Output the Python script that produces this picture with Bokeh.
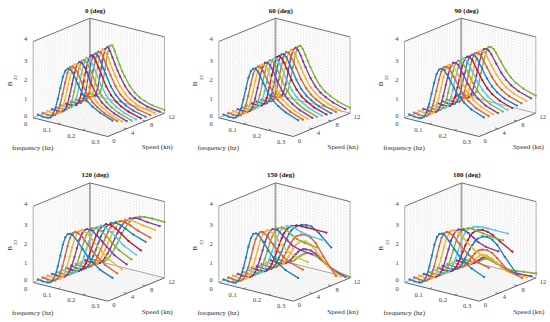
import numpy as np
from bokeh.embed import file_html
from bokeh.resources import INLINE
from bokeh.core.properties import value
from bokeh.layouts import column, row
from bokeh.models import ColumnDataSource, Range1d
from bokeh.plotting import figure

FREQ = [0.00, 0.02, 0.04, 0.05, 0.06, 0.07, 0.08, 0.09, 0.10, 0.11, 0.12, 0.13, 0.14, 0.16, 0.18, 0.20, 0.22, 0.25, 0.30]
SPEEDS = [1, 2, 3, 4, 5, 6, 7, 8, 9, 10, 11, 12]
TITLES = ["0 (deg)", "60 (deg)", "90 (deg)", "120 (deg)", "150 (deg)", "180 (deg)"]
COLORS = ["#1B7FC4", "#E2602A", "#F0B52E", "#8A3A9A", "#7DB23A", "#56C3F0", "#AE2038"]
B_TICKS = [0, 1, 2, 3, 4]
F_TICKS = [0, 0.1, 0.2, 0.3]
S_TICKS = [0, 4, 8, 12]

B22_000 = [
    [.06,.02,.03,.08,.25,.62,1.15,1.75,2.35,2.72,2.87,2.86,2.72,2.2,1.72,1.4,1.2,.98,.73],
    [.05,.02,.04,.10,.3,.72,1.3,1.92,2.48,2.8,2.88,2.82,2.65,2.08,1.6,1.28,1.07,.84,.6],
    [.05,.02,.04,.12,.36,.84,1.45,2.08,2.6,2.85,2.88,2.76,2.55,1.95,1.48,1.16,.95,.72,.48],
    [.04,.02,.05,.15,.43,.96,1.6,2.24,2.7,2.88,2.85,2.68,2.44,1.82,1.36,1.05,.85,.63,.4],
    [.04,.02,.06,.18,.52,1.1,1.78,2.4,2.8,2.89,2.8,2.58,2.32,1.7,1.25,.96,.76,.55,.33],
    [.04,.02,.07,.22,.62,1.25,1.95,2.55,2.86,2.88,2.72,2.47,2.18,1.58,1.15,.87,.68,.48,.28],
    [.03,.02,.08,.26,.72,1.42,2.13,2.68,2.89,2.84,2.62,2.34,2.05,1.47,1.06,.79,.61,.43,.24],
    [.03,.02,.1,.32,.85,1.6,2.3,2.78,2.89,2.76,2.5,2.2,1.92,1.36,.97,.72,.55,.38,.22],
    [.03,.03,.12,.38,.98,1.78,2.47,2.84,2.86,2.66,2.36,2.06,1.78,1.26,.89,.66,.5,.34,.2],
    [.03,.03,.14,.46,1.13,1.97,2.62,2.88,2.8,2.54,2.22,1.92,1.65,1.16,.82,.6,.46,.31,.19],
    [.03,.03,.17,.55,1.3,2.15,2.74,2.89,2.71,2.4,2.08,1.78,1.52,1.07,.75,.55,.42,.28,.18],
    [.03,.04,.2,.65,1.48,2.32,2.82,2.87,2.6,2.26,1.93,1.64,1.4,.98,.69,.5,.38,.25,.17],
]
B22_060 = [
    [.06,.02,.03,.08,.24,.6,1.12,1.72,2.32,2.7,2.87,2.87,2.75,2.25,1.77,1.44,1.23,1.0,.75],
    [.05,.02,.03,.09,.27,.66,1.2,1.82,2.4,2.76,2.88,2.85,2.7,2.18,1.7,1.37,1.17,.93,.68],
    [.05,.02,.04,.1,.31,.73,1.3,1.93,2.48,2.8,2.88,2.82,2.65,2.1,1.63,1.3,1.1,.87,.62],
    [.05,.02,.04,.12,.35,.82,1.42,2.05,2.58,2.84,2.88,2.78,2.58,2.02,1.56,1.24,1.04,.81,.57],
    [.04,.02,.05,.14,.4,.91,1.53,2.16,2.66,2.87,2.87,2.73,2.5,1.94,1.49,1.18,.98,.75,.52],
    [.04,.02,.05,.16,.46,1.0,1.65,2.28,2.73,2.88,2.84,2.66,2.42,1.86,1.42,1.12,.93,.7,.48],
    [.04,.02,.06,.19,.52,1.1,1.78,2.39,2.79,2.89,2.8,2.59,2.33,1.78,1.35,1.06,.87,.65,.44],
    [.04,.02,.07,.22,.59,1.22,1.9,2.5,2.84,2.88,2.75,2.51,2.24,1.7,1.28,1.0,.82,.61,.4],
    [.03,.02,.08,.25,.67,1.33,2.03,2.6,2.87,2.86,2.68,2.42,2.15,1.62,1.22,.95,.77,.57,.37],
    [.03,.02,.09,.28,.74,1.44,2.14,2.67,2.88,2.83,2.62,2.34,2.07,1.55,1.16,.9,.73,.53,.34],
    [.03,.02,.1,.32,.82,1.55,2.25,2.74,2.89,2.79,2.55,2.26,1.99,1.48,1.1,.85,.69,.5,.31],
    [.03,.03,.12,.37,.92,1.68,2.37,2.8,2.89,2.74,2.47,2.17,1.9,1.41,1.04,.8,.65,.46,.28],
]
B22_090 = [
    [.07,.03,.02,.05,.15,.42,.88,1.45,2.05,2.55,2.82,2.9,2.87,2.5,2.05,1.68,1.42,1.15,.9],
    [.07,.03,.02,.05,.16,.45,.92,1.5,2.1,2.58,2.84,2.9,2.86,2.47,2.02,1.65,1.38,1.12,.87],
    [.07,.03,.02,.06,.17,.47,.96,1.55,2.14,2.62,2.85,2.9,2.84,2.44,1.98,1.61,1.35,1.09,.85],
    [.06,.03,.02,.06,.18,.5,1.0,1.6,2.2,2.66,2.87,2.9,2.82,2.41,1.94,1.57,1.31,1.05,.82],
    [.06,.03,.03,.07,.2,.53,1.05,1.65,2.25,2.69,2.88,2.89,2.8,2.37,1.9,1.53,1.27,1.02,.8],
    [.06,.02,.03,.07,.21,.56,1.1,1.7,2.3,2.72,2.88,2.89,2.78,2.33,1.86,1.5,1.25,1.0,.78],
    [.06,.02,.03,.08,.23,.6,1.14,1.76,2.35,2.75,2.89,2.88,2.76,2.3,1.84,1.48,1.24,1.0,.78],
    [.06,.02,.03,.08,.25,.63,1.19,1.81,2.4,2.77,2.89,2.87,2.73,2.28,1.83,1.48,1.25,1.01,.8],
    [.05,.02,.04,.09,.27,.67,1.24,1.86,2.44,2.8,2.89,2.86,2.71,2.26,1.83,1.49,1.26,1.03,.82],
    [.05,.02,.04,.1,.29,.71,1.29,1.92,2.48,2.82,2.89,2.85,2.69,2.25,1.83,1.5,1.28,1.06,.85],
    [.05,.02,.04,.11,.31,.75,1.34,1.97,2.52,2.84,2.89,2.83,2.67,2.24,1.83,1.52,1.3,1.09,.88],
    [.05,.02,.04,.12,.33,.79,1.39,2.02,2.56,2.86,2.88,2.81,2.65,2.23,1.84,1.54,1.33,1.12,.92],
]
B22_120 = [
    [.06,.02,.03,.07,.2,.52,1.0,1.6,2.2,2.62,2.83,2.87,2.84,2.58,2.23,1.92,1.68,1.38,1.12],
    [.06,.02,.03,.07,.19,.47,.92,1.47,2.03,2.5,2.76,2.87,2.88,2.7,2.4,2.1,1.85,1.55,1.25],
    [.06,.02,.02,.06,.18,.43,.83,1.33,1.87,2.35,2.66,2.82,2.89,2.79,2.54,2.27,2.02,1.7,1.36],
    [.05,.02,.02,.06,.17,.4,.76,1.22,1.72,2.2,2.54,2.75,2.86,2.85,2.66,2.42,2.18,1.85,1.52],
    [.05,.02,.02,.06,.16,.37,.7,1.12,1.58,2.04,2.4,2.65,2.8,2.88,2.76,2.56,2.33,2.0,1.68],
    [.05,.02,.02,.05,.15,.34,.64,1.02,1.45,1.9,2.27,2.55,2.73,2.89,2.83,2.67,2.47,2.15,1.82],
    [.05,.02,.02,.05,.14,.32,.59,.94,1.34,1.76,2.13,2.43,2.64,2.87,2.88,2.76,2.58,2.28,1.95],
    [.05,.02,.02,.05,.13,.3,.55,.87,1.23,1.62,1.99,2.3,2.54,2.83,2.9,2.84,2.72,2.52,2.3],
    [.05,.02,.02,.05,.12,.28,.51,.8,1.13,1.49,1.85,2.17,2.43,2.77,2.9,2.88,2.79,2.62,2.42],
    [.05,.02,.02,.04,.11,.26,.47,.74,1.05,1.38,1.72,2.04,2.31,2.7,2.88,2.92,2.88,2.8,2.72],
    [.05,.02,.02,.04,.1,.24,.44,.69,.97,1.28,1.6,1.91,2.19,2.6,2.83,2.92,2.92,2.86,2.82],
    [.05,.02,.02,.04,.1,.22,.41,.64,.9,1.18,1.49,1.79,2.07,2.5,2.76,2.88,2.93,2.95,2.93],
]
B22_150 = [
    [.06,.02,.03,.06,.17,.46,.92,1.5,2.1,2.58,2.84,2.9,2.87,2.55,2.17,1.87,1.63,1.36,1.12],
    [.06,.02,.02,.06,.16,.42,.84,1.36,1.92,2.42,2.73,2.87,2.9,2.7,2.38,2.1,1.88,1.65,1.45],
    [.06,.02,.02,.05,.15,.38,.76,1.24,1.76,2.26,2.6,2.79,2.89,2.79,2.52,2.27,2.05,1.88,1.75],
    [.05,.02,.02,.05,.14,.35,.69,1.12,1.6,2.08,2.46,2.7,2.85,2.88,2.67,2.45,2.25,2.12,2.05],
    [.05,.02,.02,.05,.13,.32,.63,1.02,1.46,1.92,2.3,2.58,2.78,2.9,2.8,2.62,2.48,2.38,2.3],
    [.05,.02,.02,.04,.12,.29,.57,.93,1.33,1.76,2.14,2.44,2.66,2.86,2.9,2.83,2.74,2.66,2.6],
    [.05,.02,.02,.04,.11,.27,.52,.85,1.22,1.62,2.0,2.3,2.54,2.78,2.87,2.89,2.89,2.89,2.88],
    [.05,.02,.02,.04,.1,.25,.48,.78,1.12,1.49,1.85,2.15,2.38,2.66,2.8,2.86,2.85,2.6,2.0],
    [.05,.02,.02,.04,.1,.23,.44,.71,1.0,1.3,1.58,1.8,1.96,2.12,2.16,2.08,1.85,1.25,.4],
    [.05,.02,.02,.03,.09,.21,.4,.63,.88,1.12,1.33,1.49,1.6,1.66,1.55,1.32,1.03,.62,.28],
    [.05,.02,.02,.03,.08,.18,.33,.5,.68,.85,.97,1.05,1.08,1.09,.98,.8,.6,.36,.16],
    [.05,.02,.02,.03,.06,.13,.24,.37,.5,.61,.69,.74,.75,.7,.58,.43,.3,.15,.05],
]
B22_180 = [
    [.06,.02,.03,.07,.2,.52,1.0,1.6,2.2,2.63,2.84,2.88,2.85,2.58,2.23,1.95,1.72,1.45,1.17],
    [.06,.02,.03,.06,.18,.46,.9,1.45,2.02,2.5,2.76,2.87,2.88,2.72,2.44,2.17,1.95,1.72,1.54],
    [.05,.02,.02,.06,.16,.41,.8,1.3,1.83,2.33,2.65,2.82,2.88,2.83,2.6,2.36,2.15,1.96,1.85],
    [.05,.02,.02,.05,.15,.37,.72,1.17,1.66,2.14,2.5,2.72,2.83,2.88,2.77,2.6,2.42,2.28,2.2],
    [.05,.02,.02,.05,.14,.33,.65,1.06,1.51,1.97,2.34,2.6,2.75,2.86,2.87,2.83,2.78,2.72,2.68],
    [.05,.02,.02,.04,.12,.3,.58,.95,1.36,1.8,2.17,2.45,2.64,2.82,2.9,2.93,2.94,2.94,2.93],
    [.05,.02,.02,.04,.11,.27,.52,.85,1.22,1.58,1.9,2.15,2.35,2.56,2.63,2.6,2.5,2.25,1.88],
    [.05,.02,.02,.04,.1,.24,.46,.73,1.02,1.3,1.55,1.76,1.93,2.12,2.16,2.08,1.87,1.35,.58],
    [.05,.02,.02,.03,.09,.2,.37,.57,.78,.96,1.11,1.21,1.27,1.3,1.22,1.02,.78,.48,.3],
    [.05,.02,.02,.03,.07,.16,.29,.44,.6,.73,.82,.86,.85,.75,.58,.42,.3,.24,.24],
    [.04,.02,.02,.03,.06,.13,.24,.36,.48,.58,.61,.6,.56,.44,.3,.2,.15,.15,.19],
    [.04,.02,.02,.03,.05,.11,.2,.3,.35,.35,.32,.27,.22,.14,.09,.08,.1,.16,.23],
]
PANELS = [B22_000, B22_060, B22_090, B22_120, B22_150, B22_180]

# screen position of (f=0, speed=0, B=0) in each panel, and the projection of the box
ORIGINS = [(32.7, 117.3), (218.3, 117.3), (404.0, 117.3), (32.7, 282.0), (218.3, 282.0), (404.3, 282.0)]
F_MAX, S_MAX, B_MAX = 0.3, 12.0, 4.0
F_VEC, S_VEC, B_VEC = (74.6, 18.7), (56.7, -23.3), (0.0, -76.3)
W, H = 183, 161
SERIF = value("Liberation Serif")


def project(o, f, s, b):
    f, s, b = np.asarray(f, float), np.asarray(s, float), np.asarray(b, float)
    x = o[0] + f / F_MAX * F_VEC[0] + s / S_MAX * S_VEC[0] + b / B_MAX * B_VEC[0]
    y = o[1] + f / F_MAX * F_VEC[1] + s / S_MAX * S_VEC[1] + b / B_MAX * B_VEC[1]
    return x, y


def seg(p, o, a, b, color, width=1.0, dash="solid"):
    x, y = project(o, [a[0], b[0]], [a[1], b[1]], [a[2], b[2]])
    p.line(x, y, line_color=color, line_width=width, line_dash=dash)


def grid(p, o):
    xs, ys = [], []

    def add(a, b):
        x, y = project(o, [a[0], b[0]], [a[1], b[1]], [a[2], b[2]])
        xs.append(list(x)); ys.append(list(y))

    for f in np.arange(0.0125, 0.3, 0.0125):
        add((f, 0, 0), (f, S_MAX, 0))
        add((f, S_MAX, 0), (f, S_MAX, B_MAX))
    for s in np.arange(0.6, 12, 0.6):
        add((0, s, 0), (F_MAX, s, 0))
        add((0, s, 0), (0, s, B_MAX))
    for b in np.arange(0.15, 4, 0.15):
        add((0, 0, b), (0, S_MAX, b))
        add((0, S_MAX, b), (F_MAX, S_MAX, b))
    p.multi_line(xs, ys, line_color="#d2d2d2", line_width=0.45, line_dash="1 1")


def panel(i):
    o = ORIGINS[i]
    ox = W * (i % 3)
    oy = H * (i // 3)
    p = figure(width=W, height=H, x_range=Range1d(ox, ox + W), y_range=Range1d(oy + H, oy),
               x_axis_type=None, y_axis_type=None, toolbar_location=None,
               output_backend="svg", min_border=0, outline_line_color=None)
    p.grid.visible = False
    grid(p, o)

    # box
    dark = "#707070"
    seg(p, o, (0, 0, 0), (0, 0, B_MAX), "#a0a0a0", 0.9)
    seg(p, o, (0, S_MAX, 0), (0, S_MAX, B_MAX), "#a4a4a4", 1.9)
    seg(p, o, (F_MAX, S_MAX, 0), (F_MAX, S_MAX, B_MAX), "#b0b0b0", 1.0)
    seg(p, o, (0, 0, B_MAX), (0, S_MAX, B_MAX), dark, 1.0)
    seg(p, o, (0, S_MAX, B_MAX), (F_MAX, S_MAX, B_MAX), dark, 1.0)
    seg(p, o, (0, 0, 0), (F_MAX, 0, 0), "#606060", 1.0)
    seg(p, o, (F_MAX, 0, 0), (F_MAX, S_MAX, 0), "#606060", 1.0)
    seg(p, o, (0, 0, 0), (0, S_MAX, 0), "#808080", 0.7)
    seg(p, o, (0, S_MAX, 0), (F_MAX, S_MAX, 0), "#808080", 0.7)

    # tick marks
    for f in F_TICKS[1:-1]:
        seg(p, o, (f, 0, 0), (f, 0.5, 0), "#606060", 0.8)
    for s in S_TICKS[1:-1]:
        seg(p, o, (F_MAX - 0.012, s, 0), (F_MAX, s, 0), "#606060", 0.8)

    # curves, far ones first so that the nearest lies on top
    rows = PANELS[i]
    for k in range(len(SPEEDS) - 1, -1, -1):
        x, y = project(o, FREQ, [SPEEDS[k]] * len(FREQ), rows[k])
        src = ColumnDataSource(dict(x=x, y=y))
        c = COLORS[k % len(COLORS)]
        p.line("x", "y", source=src, line_color=c, line_width=1.35)
        p.scatter("x", "y", source=src, size=2.3, fill_color=c, line_color=None)

    # tick labels
    tick_style = dict(text_font=SERIF, text_font_size="6.5px", text_color="#404040",
                      text_align="center", text_baseline="middle")
    bx, by = project(o, [0] * len(B_TICKS), [0] * len(B_TICKS), B_TICKS)
    shift = [-2.3, 0, 0, 0, -2.7]
    p.text(bx - 7.7, by + np.array(shift), text=[str(t) for t in B_TICKS], **tick_style)
    fx, fy = project(o, F_TICKS, [0] * len(F_TICKS), [0] * len(F_TICKS))
    dx = np.array([-7.7, -11, -11.7, -12.3])
    dy = np.array([6.0, 5.8, 5.3, 5.0])
    p.text(fx + dx, fy + dy, text=[str(t) for t in F_TICKS], **tick_style)
    sx, sy = project(o, [F_MAX] * len(S_TICKS), S_TICKS, [0] * len(S_TICKS))
    p.text(sx + np.array([6, 6, 6, 7]), sy + 4, text=[str(t) for t in S_TICKS], **tick_style)

    # titles
    label = dict(text_font=SERIF, text_font_size="7.1px", text_color="#303030",
                 text_align="center", text_baseline="middle")
    p.text([o[0] + 62], [o[1] - 107.3], text=[TITLES[i]], text_font=SERIF, text_font_size="7px",
           text_font_style="bold", text_color="#111111", text_align="center", text_baseline="middle")
    p.text([o[0] - 0.5], [o[1] + 30], text=["frequency (hz)"], **label)
    p.text([o[0] + 124], [o[1] + 29.5], text=["Speed (kn)"], **label)
    p.text([o[0] - 23.4], [o[1] - 34], text=["B"], angle=np.pi / 2, **label)
    p.text([o[0] - 17.7], [o[1] - 40], text=["22"], angle=np.pi / 2, text_font=SERIF,
           text_font_size="5px", text_color="#303030", text_align="center", text_baseline="middle")
    return p


figs = [panel(i) for i in range(6)]
layout = column(row(*figs[:3]), row(*figs[3:]))
open("out.html", "w").write(file_html(layout, INLINE))
